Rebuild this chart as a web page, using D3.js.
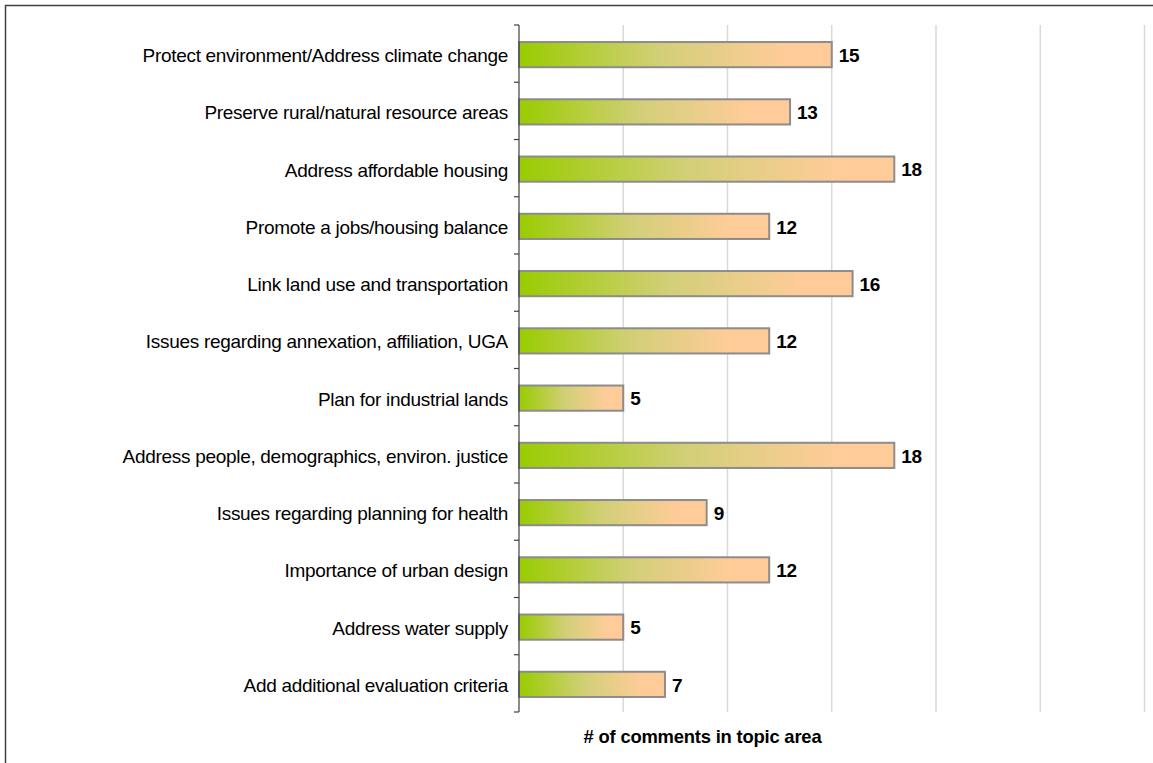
<!DOCTYPE html>
<html>
<head>
<meta charset="utf-8">
<script src="https://d3js.org/d3.v7.min.js"></script>
<style>
  html, body { margin: 0; padding: 0; background: #fff; }
  svg { display: block; }
</style>
</head>
<body>
<svg id="chart" width="1153" height="763"></svg>
<script>
// Topic areas and the number of comments received for each
const topics = [
  "Protect environment/Address climate change",
  "Preserve rural/natural resource areas",
  "Address affordable housing",
  "Promote a jobs/housing balance",
  "Link land use and transportation",
  "Issues regarding annexation, affiliation, UGA",
  "Plan for industrial lands",
  "Address people, demographics, environ. justice",
  "Issues regarding planning for health",
  "Importance of urban design",
  "Address water supply",
  "Add additional evaluation criteria"
];
const comments = [15, 13, 18, 12, 16, 12, 5, 18, 9, 12, 5, 7];
const gridTicks = [0, 5, 10, 15, 20, 25, 30];
const axisTitle = "# of comments in topic area";

const svg = d3.select("#chart");
const font = "'Liberation Sans', Arial, sans-serif";

// outer frame
svg.append("rect")
  .attr("x", 5.5).attr("y", 5.5)
  .attr("width", 1160).attr("height", 770)
  .attr("fill", "none")
  .attr("stroke", "#404040")
  .attr("stroke-width", 1.5);

const plot = { left: 519, right: 1144.5, top: 25, bottom: 712 };

const x = d3.scaleLinear().domain([0, 30]).range([plot.left, plot.right]);
const y = d3.scaleBand().domain(topics).range([plot.top, plot.bottom]).paddingInner(0.56).paddingOuter(0.28);
const barShift = 1;

// bar gradient: green to peach
const defs = svg.append("defs");
const grad = defs.append("linearGradient")
  .attr("id", "barGrad")
  .attr("x1", "0%").attr("x2", "100%").attr("y1", "0%").attr("y2", "0%");
grad.append("stop").attr("offset", "0%").attr("stop-color", "#99cc00");
grad.append("stop").attr("offset", "45%").attr("stop-color", "#d2cf78");
grad.append("stop").attr("offset", "85%").attr("stop-color", "#ffcc99");
grad.append("stop").attr("offset", "100%").attr("stop-color", "#ffcc99");

// vertical gridlines
svg.append("g")
  .selectAll("line")
  .data(gridTicks.filter(d => d > 0))
  .join("line")
  .attr("x1", d => x(d)).attr("x2", d => x(d))
  .attr("y1", plot.top).attr("y2", plot.bottom)
  .attr("stroke", "#d9d9d9")
  .attr("stroke-width", 1.5);

// bars
svg.append("g")
  .selectAll("rect")
  .data(topics)
  .join("rect")
  .attr("x", x(0))
  .attr("y", d => y(d) + barShift)
  .attr("width", (d, i) => x(comments[i]) - x(0))
  .attr("height", y.bandwidth())
  .attr("fill", "url(#barGrad)")
  .attr("stroke", "#8c8c8c")
  .attr("stroke-width", 2);

// value labels
svg.append("g")
  .selectAll("text")
  .data(topics)
  .join("text")
  .attr("x", (d, i) => x(comments[i]) + 7)
  .attr("y", d => y(d) + barShift + y.bandwidth() / 2)
  .attr("dy", "0.38em")
  .attr("font-family", font)
  .attr("font-size", 19)
  .attr("font-weight", "bold")
  .attr("letter-spacing", "-0.3px")
  .attr("fill", "#000")
  .text((d, i) => comments[i]);

// category axis with outward ticks at band boundaries
const yAxis = svg.append("g");
yAxis.append("line")
  .attr("x1", plot.left).attr("x2", plot.left)
  .attr("y1", plot.top).attr("y2", plot.bottom)
  .attr("stroke", "#404040").attr("stroke-width", 1.2);
const bounds = d3.range(topics.length + 1).map(i => plot.top + i * y.step());
yAxis.selectAll("line.tick")
  .data(bounds)
  .join("line")
  .attr("class", "tick")
  .attr("x1", plot.left - 5).attr("x2", plot.left)
  .attr("y1", d => d).attr("y2", d => d)
  .attr("stroke", "#404040").attr("stroke-width", 1.2);

yAxis.selectAll("text")
  .data(topics)
  .join("text")
  .attr("x", plot.left - 11)
  .attr("y", d => y(d) + barShift + y.bandwidth() / 2)
  .attr("dy", "0.4em")
  .attr("text-anchor", "end")
  .attr("font-family", font)
  .attr("font-size", 19)
  .attr("letter-spacing", "-0.3px")
  .attr("fill", "#000")
  .text(d => d);

// axis title
svg.append("text")
  .attr("x", 702.5)
  .attr("y", 743)
  .attr("text-anchor", "middle")
  .attr("font-family", font)
  .attr("font-size", 18.4)
  .attr("font-weight", "bold")
  .attr("letter-spacing", "-0.2px")
  .attr("fill", "#000")
  .text(axisTitle);
</script>
</body>
</html>
